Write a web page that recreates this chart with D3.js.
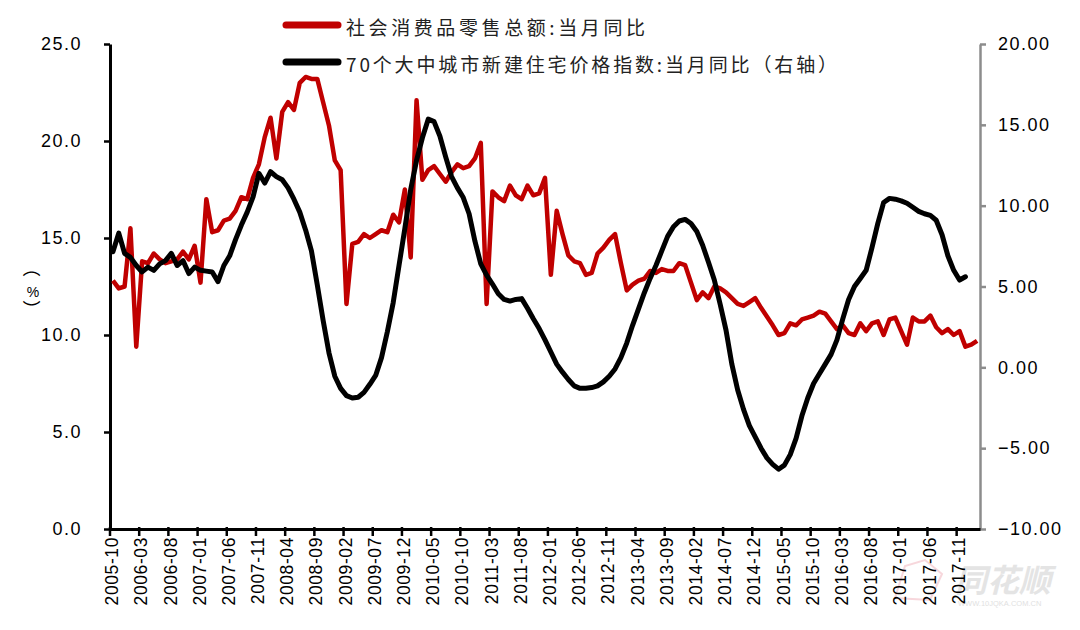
<!DOCTYPE html>
<html><head><meta charset="utf-8">
<script src="https://cdn.jsdelivr.net/npm/d3@7"></script>
<style>body{margin:0;background:#fff}svg{display:block}</style>
</head><body><svg id="c" width="1080" height="630"></svg>
<script>
const categories = [
"2005-10","2005-11","2005-12",
"2006-01","2006-02","2006-03","2006-04","2006-05","2006-06","2006-07","2006-08","2006-09","2006-10","2006-11","2006-12",
"2007-01","2007-02","2007-03","2007-04","2007-05","2007-06","2007-07","2007-08","2007-09","2007-10","2007-11","2007-12",
"2008-01","2008-02","2008-03","2008-04","2008-05","2008-06","2008-07","2008-08","2008-09","2008-10","2008-11","2008-12",
"2009-01","2009-02","2009-03","2009-04","2009-05","2009-06","2009-07","2009-08","2009-09","2009-10","2009-11","2009-12",
"2010-01","2010-02","2010-03","2010-04","2010-05","2010-06","2010-07","2010-08","2010-09","2010-10","2010-11","2010-12",
"2011-01","2011-02","2011-03","2011-04","2011-05","2011-06","2011-07","2011-08","2011-09","2011-10","2011-11","2011-12",
"2012-01","2012-02","2012-03","2012-04","2012-05","2012-06","2012-07","2012-08","2012-09","2012-10","2012-11","2012-12",
"2013-01","2013-02","2013-03","2013-04","2013-05","2013-06","2013-07","2013-08","2013-09","2013-10","2013-11","2013-12",
"2014-01","2014-02","2014-03","2014-04","2014-05","2014-06","2014-07","2014-08","2014-09","2014-10","2014-11","2014-12",
"2015-01","2015-02","2015-03","2015-04","2015-05","2015-06","2015-07","2015-08","2015-09","2015-10","2015-11","2015-12",
"2016-01","2016-02","2016-03","2016-04","2016-05","2016-06","2016-07","2016-08","2016-09","2016-10","2016-11","2016-12",
"2017-01","2017-02","2017-03","2017-04","2017-05","2017-06","2017-07","2017-08","2017-09","2017-10","2017-11","2017-12",
"2018-01","2018-02"];

// 社会消费品零售总额:当月同比 (left axis, %)
const retailSales = [
12.8,12.4,12.5,
15.5,9.4,13.8,13.7,14.2,13.9,13.7,13.8,13.9,14.3,13.9,14.6,
12.7,17.0,15.3,15.4,15.9,16.0,16.4,17.1,17.0,18.1,18.8,20.2,
21.2,19.1,21.5,22.0,21.6,23.0,23.3,23.2,23.2,22.0,20.8,19.0,
18.5,11.6,14.7,14.8,15.2,15.0,15.2,15.4,15.3,16.2,15.8,17.5,
14.0,22.1,18.0,18.5,18.7,18.3,17.9,18.4,18.8,18.6,18.7,19.1,
19.9,11.6,17.4,17.1,16.9,17.7,17.2,17.0,17.7,17.2,17.3,18.1,
13.1,16.4,15.2,14.1,13.8,13.7,13.1,13.2,14.2,14.5,14.9,15.2,
13.7,12.3,12.6,12.8,12.9,13.3,13.2,13.4,13.3,13.3,13.7,13.6,
12.7,11.8,12.2,11.9,12.5,12.4,12.2,11.9,11.6,11.5,11.7,11.9,
11.4,10.95,10.5,10.0,10.1,10.6,10.5,10.8,10.9,11.0,11.2,11.1,
10.7,10.3,10.5,10.1,10.0,10.6,10.2,10.6,10.7,10.0,10.8,10.9,
10.2,9.5,10.9,10.7,10.7,11.0,10.4,10.1,10.3,10.0,10.2,9.4,
9.5,9.7];

// 70个大中城市新建住宅价格指数:当月同比 (right axis)
const housePrice = [
7.15,8.3,7.05,
6.8,6.3,5.9,6.2,6.0,6.4,6.6,7.05,6.3,6.6,5.8,6.2,
6.0,5.95,5.9,5.3,6.3,6.9,7.9,8.8,9.6,10.55,12.0,11.4,
12.1,11.8,11.6,11.1,10.4,9.6,8.5,7.2,5.1,2.9,0.9,-0.55,
-1.3,-1.75,-1.9,-1.85,-1.55,-1.05,-0.5,0.6,2.2,4.0,6.3,8.6,
11.0,12.8,14.2,15.35,15.2,14.3,13.0,11.8,11.1,10.5,9.5,7.8,
6.4,5.7,5.15,4.55,4.2,4.1,4.2,4.25,3.65,3.0,2.4,1.7,
0.95,0.2,-0.3,-0.75,-1.15,-1.3,-1.3,-1.25,-1.15,-0.9,-0.55,-0.1,
0.6,1.5,2.6,3.6,4.6,5.5,6.3,7.2,8.1,8.7,9.05,9.15,
8.9,8.4,7.55,6.5,5.4,3.9,2.3,0.2,-1.4,-2.6,-3.6,-4.3,
-5.0,-5.6,-6.0,-6.3,-6.05,-5.4,-4.4,-3.0,-1.9,-1.0,-0.4,0.2,
0.8,1.7,3.0,4.2,5.0,5.5,6.0,7.4,8.9,10.2,10.45,10.4,
10.3,10.15,9.9,9.65,9.5,9.4,9.1,8.2,6.9,6.0,5.4,5.6];

const xTickLabels = ["2005-10","2006-03","2006-08","2007-01","2007-06","2007-11","2008-04","2008-09",
"2009-02","2009-07","2009-12","2010-05","2010-10","2011-03","2011-08","2012-01","2012-06","2012-11",
"2013-04","2013-09","2014-02","2014-07","2014-12","2015-05","2015-10","2016-03","2016-08","2017-01",
"2017-06","2017-11"];
const leftTicks = [0, 5, 10, 15, 20, 25];
const rightTicks = [-10, -5, 0, 5, 10, 15, 20];
const seriesNames = ["社会消费品零售总额:当月同比", "70个大中城市新建住宅价格指数:当月同比（右轴）"];

const svg = d3.select("#c");
const L = 110, R = 980, T = 44, B = 529;
const latin = "Arial, 'Liberation Sans', sans-serif";
const cjk = "'Noto Sans CJK SC', sans-serif";

const x = d3.scaleBand().domain(categories).range([L, R]).padding(0);
const yL = d3.scaleLinear().domain([0, 25]).range([B, T]);
const yR = d3.scaleLinear().domain([-10, 20]).range([B, T]);
const cx = i => x(categories[i]) + x.bandwidth() / 2;

// watermark
const wm = svg.append("g").attr("opacity", 0.55);
wm.append("path").attr("d", "M895,598 L905,566 L925,560 L942,574 L930,600 Z")
  .attr("fill", "none").attr("stroke", "#f2b8c0").attr("stroke-width", 2);
wm.append("text").attr("x", 955).attr("y", 592).attr("font-family", cjk).attr("font-size", 32)
  .attr("font-weight", "bold").attr("font-style", "italic").attr("fill", "#cfcfcf").text("同花顺");
wm.append("text").attr("x", 958).attr("y", 606).attr("font-family", latin).attr("font-size", 7.5)
  .attr("fill", "#c8c8c8").text("WWW.10JQKA.COM.CN");

// left axis
const gL = svg.append("g").attr("transform", `translate(${L},0)`)
  .call(d3.axisLeft(yL).tickValues(leftTicks).tickFormat(d3.format(".1f")).tickSize(6).tickSizeOuter(0).tickPadding(22));
gL.select(".domain").attr("stroke", "#000").attr("stroke-width", 3);
gL.selectAll(".tick line").attr("stroke", "#000").attr("stroke-width", 2.5);
gL.selectAll(".tick text").attr("font-family", latin).attr("font-size", 18).attr("fill", "#000")
  .attr("letter-spacing", "1.5px");

// right axis
const gR = svg.append("g").attr("transform", `translate(${R},0)`)
  .call(d3.axisRight(yR).tickValues(rightTicks).tickFormat(d3.format(".2f")).tickSize(6).tickSizeOuter(0).tickPadding(12));
gR.select(".domain").attr("stroke", "#8c8c8c").attr("stroke-width", 2.5);
gR.selectAll(".tick line").attr("stroke", "#8c8c8c").attr("stroke-width", 2.5);
gR.selectAll(".tick text").attr("font-family", latin).attr("font-size", 18).attr("fill", "#000")
  .attr("letter-spacing", "1.5px");

// bottom axis
const gB = svg.append("g").attr("transform", `translate(0,${B})`)
  .call(d3.axisBottom(x).tickValues(xTickLabels).tickSize(7).tickSizeOuter(0));
gB.selectAll(".tick").attr("transform", d => `translate(${x(d)},0)`);
gB.select(".domain").attr("stroke", "#000").attr("stroke-width", 3);
gB.selectAll(".tick line").attr("stroke", "#000").attr("stroke-width", 2.5).attr("y1", -2);
gB.selectAll(".tick text").attr("font-family", latin).attr("font-size", 17.5).attr("fill", "#000")
  .attr("transform", "rotate(-90)").attr("text-anchor", "end")
  .attr("x", -8).attr("y", 2).attr("dy", "0.35em").attr("letter-spacing", "0.6px");

// lines
const lineL = d3.line().x((d, i) => cx(i)).y(d => yL(d));
const lineR = d3.line().x((d, i) => cx(i)).y(d => yR(d));
svg.append("path").datum(retailSales).attr("d", lineL).attr("fill", "none")
  .attr("stroke", "#c00000").attr("stroke-width", 4.5).attr("stroke-linejoin", "round");
svg.append("path").datum(housePrice).attr("d", lineR).attr("fill", "none")
  .attr("stroke", "#000").attr("stroke-width", 5).attr("stroke-linejoin", "round").attr("stroke-linecap", "round");

// y label （%）
const yl = svg.append("g").attr("font-family", cjk).attr("fill", "#000");
yl.append("text").attr("transform", "translate(33,268) rotate(90)").attr("text-anchor", "middle")
  .attr("dominant-baseline", "central").attr("font-size", 18).text("（");
yl.append("text").attr("x", 33).attr("y", 292).attr("text-anchor", "middle")
  .attr("dominant-baseline", "central").attr("font-family", latin).attr("font-size", 14).text("%");
yl.append("text").attr("transform", "translate(33,309) rotate(90)").attr("text-anchor", "middle")
  .attr("dominant-baseline", "central").attr("font-size", 18).text("）");

// legend
const legColors = ["#c00000", "#000"];
const legY = [25, 62];
const legLen = [299, 491];
seriesNames.forEach((name, k) => {
  svg.append("line").attr("x1", 286).attr("x2", 338).attr("y1", legY[k]).attr("y2", legY[k])
    .attr("stroke", legColors[k]).attr("stroke-width", 7).attr("stroke-linecap", "round");
  svg.append("text").attr("x", 346).attr("y", legY[k] + 1).attr("dominant-baseline", "central")
    .attr("font-family", cjk).attr("font-size", 19).attr("fill", "#222")
    .attr("textLength", legLen[k]).attr("lengthAdjust", "spacing").text(name);
});
</script></body></html>
